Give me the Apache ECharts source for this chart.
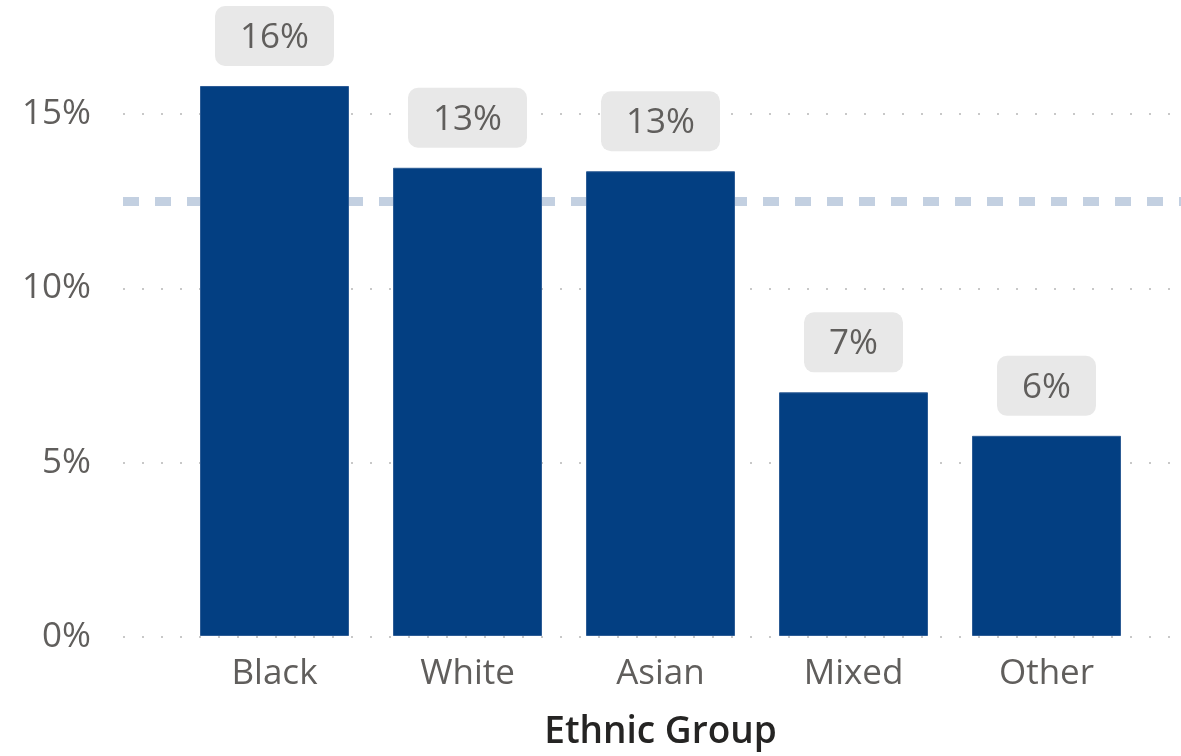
<!DOCTYPE html>
<html>
<head>
<meta charset="utf-8">
<script src="https://cdn.jsdelivr.net/npm/echarts@6/dist/echarts.min.js"></script>
<style>
  html, body { margin: 0; padding: 0; background: #fff; }
  #chart { width: 1181px; height: 756px; }
</style>
</head>
<body>
<div id="chart"></div>
<script>
const groups = ['Black', 'White', 'Asian', 'Mixed', 'Other']
const rates = [15.8, 13.45, 13.35, 7.0, 5.75]
const averageRate = 12.5
const yTicks = [0, 5, 10, 15]

const labelFont = '"Open Sans", "Noto Sans", sans-serif'
const textGrey = '#605e5c'

const chart = echarts.init(document.getElementById('chart'))

// grid 0 spans the full width for the dotted grid lines and the average line,
// grid 1 holds the bars
const zeroY = 637
const pxPerPct = (637 - 114) / 15
const barMax = 18

chart.setOption({
  animation: false,
  grid: [
    { left: 123, right: 0, top: 114, bottom: 756 - zeroY },
    { left: 178, right: 38, top: zeroY - barMax * pxPerPct, bottom: 756 - zeroY },
  ],
  xAxis: [
    { type: 'value', gridIndex: 0, min: 0, max: 1, show: false },
    {
      type: 'category',
      gridIndex: 1,
      data: groups,
      axisLine: { show: false },
      axisTick: { show: false },
      axisLabel: { color: textGrey, fontFamily: labelFont, fontSize: 35, margin: 21 },
      name: 'Ethnic Group',
      nameLocation: 'middle',
      nameGap: 78,
      nameTextStyle: { color: '#252423', fontFamily: labelFont, fontWeight: 600, fontSize: 37 },
    },
  ],
  yAxis: [
    {
      type: 'value',
      gridIndex: 0,
      min: yTicks[0],
      max: yTicks[yTicks.length - 1],
      interval: 5,
      axisLine: { show: false },
      axisTick: { show: false },
      axisLabel: {
        color: textGrey,
        fontFamily: labelFont,
        fontSize: 35,
        margin: 32,
        formatter: v => v + '%',
      },
      splitLine: { lineStyle: { color: '#c8c8c8', width: 2, type: [2, 17] } },
    },
    { type: 'value', gridIndex: 1, min: 0, max: barMax, show: false },
  ],
  series: [
    {
      type: 'line',
      xAxisIndex: 0,
      yAxisIndex: 0,
      data: [],
      z: 1,
      markLine: {
        silent: true,
        z: 1,
        symbol: 'none',
        label: { show: false },
        lineStyle: { color: '#c3d0e1', width: 9, type: [16, 16], opacity: 1 },
        data: [{ yAxis: averageRate }],
      },
    },
    {
      type: 'bar',
      xAxisIndex: 1,
      yAxisIndex: 1,
      data: rates,
      barWidth: 149,
      z: 3,
      itemStyle: { color: '#033f82', borderColor: '#2d5c95', borderWidth: 1 },
      label: {
        show: true,
        position: 'top',
        distance: 20,
        formatter: p => Math.round(p.value) + '%',
        color: textGrey,
        fontFamily: labelFont,
        fontSize: 35,
        lineHeight: 42,
        backgroundColor: '#e8e8e8',
        borderRadius: 10,
        padding: [11, 25, 7, 25],
      },
    },
  ],
})
</script>
</body>
</html>
